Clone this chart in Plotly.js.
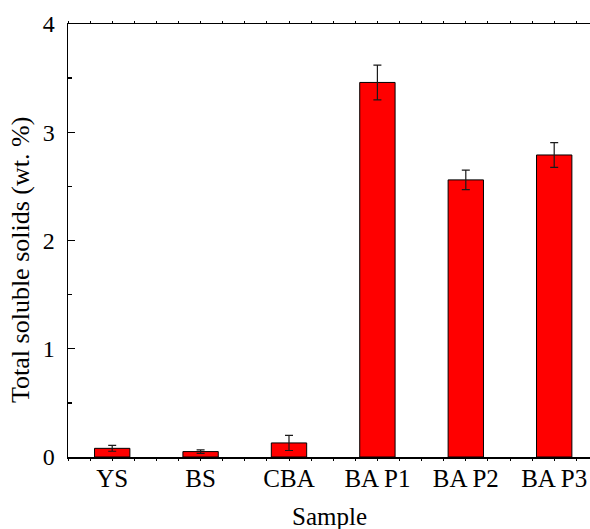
<!DOCTYPE html>
<html>
<head>
<meta charset="utf-8">
<script src="https://cdn.plot.ly/plotly-3.0.1.min.js"></script>
<style>html,body{margin:0;padding:0;background:#fff;}#chart{width:590px;height:529px;}</style>
</head>
<body>
<div id="chart"></div>
<script>
const categories = ["YS", "BS", "CBA", "BA P1", "BA P2", "BA P3"];
const totalSolubleSolids = [0.08, 0.05, 0.13, 3.46, 2.56, 2.79];
const errorValues = [0.027, 0.016, 0.07, 0.16, 0.09, 0.115];
const yTickVals = [0, 1, 2, 3, 4];

const xPos = categories.map((c, i) => i + 1);
const FONT = "Liberation Serif, Times New Roman, serif";

const trace = {
  type: "bar",
  x: xPos,
  y: totalSolubleSolids,
  width: 0.4,
  marker: {color: "#ff0000", line: {color: "#000000", width: 1}},
  error_y: {type: "data", array: errorValues, visible: true, color: "#1a1a1a", thickness: 1.2, width: 4},
  hoverinfo: "none"
};

const layout = {
  width: 590, height: 529,
  margin: {l: 68, r: 0, t: 24, b: 72, pad: 0},
  paper_bgcolor: "#ffffff", plot_bgcolor: "#ffffff",
  showlegend: false,
  font: {family: FONT, size: 25, color: "#000"},
  xaxis: {
    range: [0.5, 6.405],
    tickmode: "array", tickvals: xPos, ticktext: categories,
    ticks: "outside", ticklen: 2, tickwidth: 1, tickcolor: "#000",
    minor: {dtick: 0.25, tick0: 0.5, ticks: "outside", ticklen: 2, tickwidth: 1, tickcolor: "#000"},
    showline: true, linecolor: "#000", linewidth: 1.5, mirror: "ticks",
    showgrid: false, zeroline: false,
    tickfont: {family: FONT, size: 25, color: "#000"},
    ticklabelstandoff: -4
  },
  yaxis: {
    range: [0, 4],
    tickmode: "array", tickvals: yTickVals,
    ticks: "inside", ticklen: 7, tickwidth: 1.3, tickcolor: "#000",
    minor: {dtick: 0.5, tick0: 0, ticks: "inside", ticklen: 4, tickwidth: 1.3, tickcolor: "#000"},
    showline: true, linecolor: "#000", linewidth: 1.5, mirror: false,
    showgrid: false, zeroline: false,
    tickfont: {family: FONT, size: 24, color: "#000"},
    ticklabelstandoff: 7
  },
  annotations: [
    {text: "Sample", xref: "paper", yref: "paper", x: 0.5, y: -0.138, yanchor: "middle", xanchor: "center",
     showarrow: false, font: {family: FONT, size: 25, color: "#000"}},
    {text: "Total soluble solids (wt. %)", xref: "paper", yref: "paper", x: -0.09, y: 0.455,
     xanchor: "center", yanchor: "middle", textangle: -90,
     showarrow: false, font: {family: FONT, size: 26, color: "#000"}}
  ]
};

Plotly.newPlot("chart", [trace], layout, {displayModeBar: false, staticPlot: true});
</script>
</body>
</html>
